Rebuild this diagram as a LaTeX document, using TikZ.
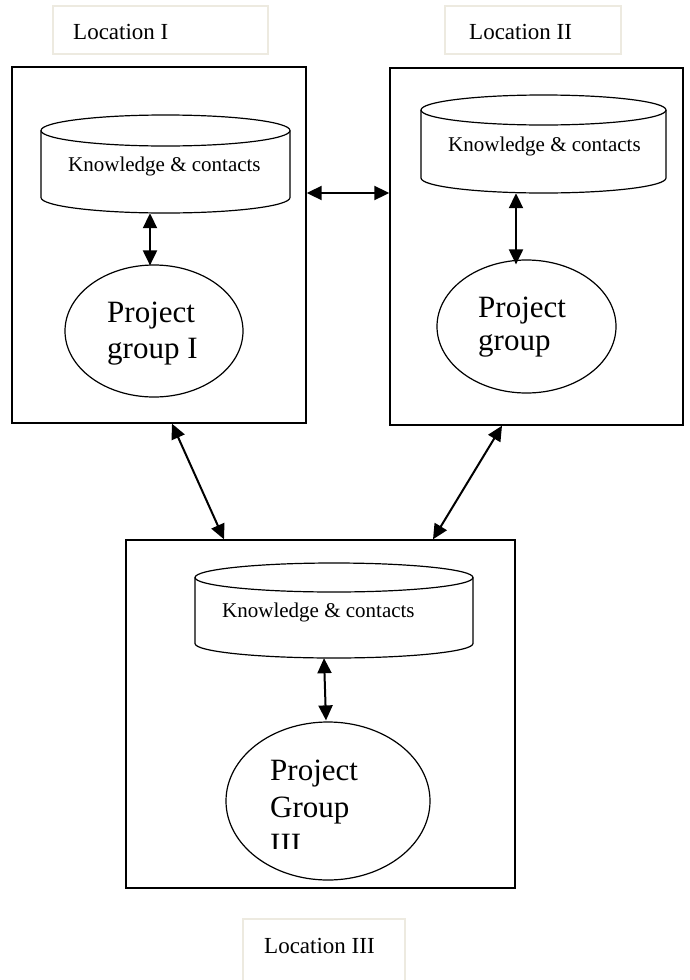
\documentclass[tikz,border=0pt]{standalone}
\usepackage{fontspec}
\setmainfont{Liberation Serif}
\usetikzlibrary{arrows.meta,shapes.geometric}
\definecolor{locline}{HTML}{EDEAE0}
\begin{document}
\begin{tikzpicture}[x=1pt,y=-1pt,
  frame/.style={draw=black,line width=1.4pt,inner sep=0pt},
  locbox/.style={draw=locline,line width=1.3pt,inner sep=0pt},
  loctext/.style={anchor=base west,inner sep=0pt,font=\fontsize{23}{27}\selectfont},
  kctext/.style={anchor=base west,inner sep=0pt,font=\fontsize{21}{25}\selectfont},
  pgtext/.style={anchor=base west,inner sep=0pt,align=left},
  pgell/.style={draw=black,ellipse,line width=1.2pt,inner sep=0pt},
  cylline/.style={draw=black,line width=1.2pt},
  dbl/.style={line width=2pt,{Triangle[length=15pt,width=14pt]}-{Triangle[length=15pt,width=14pt]}}
]
\useasboundingbox (0,0) rectangle (690,980);
\fill[white] (0,0) rectangle (690,980);

% location labels
\node[locbox,minimum width=215pt,minimum height=48pt] (locI) at (160.5,30) {};
\node[loctext] (locItext) at (73,39) {Location I};
\node[locbox,minimum width=176pt,minimum height=48pt] (locII) at (533,30) {};
\node[loctext] (locIItext) at (469,39) {Location II};
\node[locbox,minimum width=162pt,minimum height=62pt] (locIII) at (324,950) {};
\node[loctext] (locIIItext) at (264,953) {Location III};

% frames
\node[frame,minimum width=294pt,minimum height=356pt] (box1) at (159,245) {};
\node[frame,minimum width=293pt,minimum height=357pt] (box2) at (536.5,246.5) {};
\node[frame,minimum width=389pt,minimum height=348pt] (box3) at (320.5,714) {};

% cylinders
\node[inner sep=0pt,minimum width=249pt,minimum height=98pt] (kc1) at (165.5,164) {};
\draw[cylline] (41,130.5) -- (41,197.5) arc[start angle=180,end angle=0,x radius=124.5,y radius=15.5] -- (290,130.5);
\draw[cylline] (165.5,130.5) ellipse[x radius=124.5,y radius=15.5];
\node[kctext] (kc1text) at (68,171) {Knowledge \& contacts};

\node[inner sep=0pt,minimum width=245pt,minimum height=98pt] (kc2) at (543.5,144) {};
\draw[cylline] (421,110) -- (421,178) arc[start angle=180,end angle=0,x radius=122.5,y radius=15] -- (666,110);
\draw[cylline] (543.5,110) ellipse[x radius=122.5,y radius=15];
\node[kctext] (kc2text) at (448,151) {Knowledge \& contacts};

\node[inner sep=0pt,minimum width=278pt,minimum height=95pt] (kc3) at (334,610.5) {};
\draw[cylline] (195,577.5) -- (195,643.5) arc[start angle=180,end angle=0,x radius=139,y radius=14.5] -- (473,577.5);
\draw[cylline] (334,577.5) ellipse[x radius=139,y radius=14.5];
\node[kctext] (kc3text) at (222,617) {Knowledge \& contacts};

% project groups
\node[pgell,minimum width=178pt,minimum height=132pt] (pg1) at (154,331) {};
\node[pgtext,font=\fontsize{31}{36}\selectfont] (pg1text) at (107,358) {Project\\group I};

\node[pgell,minimum width=179pt,minimum height=133pt] (pg2) at (526.5,326.5) {};
\node[pgtext,font=\fontsize{31}{33}\selectfont] (pg2text) at (478,350) {Project\\group};

\node[pgell,minimum width=204pt,minimum height=158pt] (pg3) at (328,801) {};
\begin{scope}
\clip (0,0) rectangle (690,848);
\node[pgtext,font=\fontsize{31}{37}\selectfont] (pg3text) at (270,854) {Project\\Group\\III};
\end{scope}

% connectors
\draw[dbl] ([xshift=-15.5pt]kc1.south) -- ([xshift=-4pt,yshift=-1pt]pg1.north);
\draw[dbl] ([xshift=-27.5pt]kc2.south) -- ([xshift=-10.5pt,yshift=-5pt]pg2.north);
\draw[dbl] ([xshift=-10pt]kc3.south) -- ([xshift=-2pt,yshift=1pt]pg3.north);
\draw[dbl] ([yshift=52pt]box1.east) -- ([yshift=53.5pt]box2.west);
\draw[dbl] ([xshift=13pt]box1.south) -- ([xshift=-96.5pt]box3.north);
\draw[dbl] ([xshift=-34.5pt]box2.south) -- ([xshift=112.5pt]box3.north);
\end{tikzpicture}
\end{document}
